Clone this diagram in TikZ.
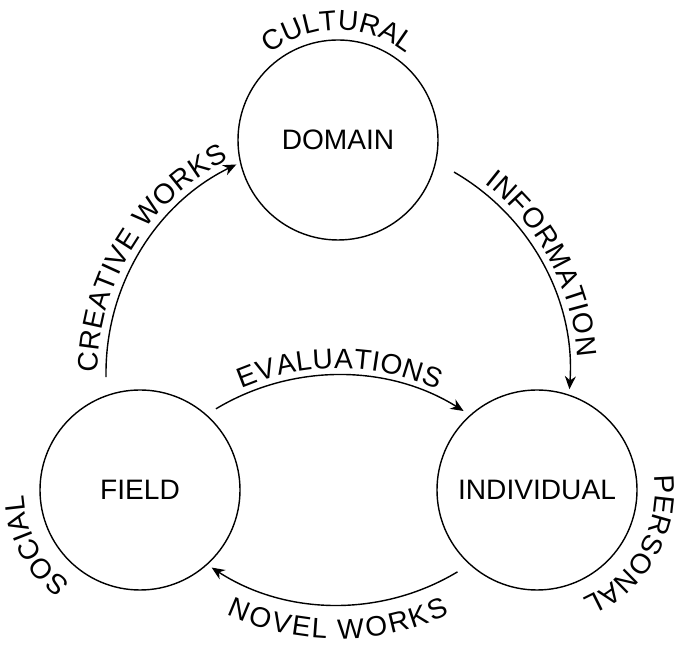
\documentclass[tikz,border=0pt]{standalone}
\usepackage{fontspec}
\setmainfont{Liberation Sans}
\usetikzlibrary{arrows.meta,calc,decorations.text}
\newcommand\lblfont{\fontsize{16}{19}\selectfont}

\begin{document}
\begin{tikzpicture}[>={Stealth[length=2.6mm,width=2.2mm]}, line width=0.8pt]
    \useasboundingbox (0,0) rectangle (13.6,12.94);

    % Define styles
    \tikzstyle{sphere}=[circle, draw=black, minimum size=40mm, inner sep=0pt, font=\lblfont]
    \tikzstyle{flow}=[->, draw=black]
    \tikzset{curved/.style={decorate, decoration={text along path, text align=center, raise=#1}}}

    \node[sphere] (domain) at (6.76,10.14) {DOMAIN};
    \node[sphere] (field) at (2.8,3.14) {FIELD};
    \node[sphere] (individual) at (10.74,3.14) {INDIVIDUAL};

    \coordinate (hub) at (6.76,5.48);
    \coordinate (dip) at (6.76,0.7);

    % ends of the flows
    \coordinate (cw-tail) at ($(hub)+(181:4.64)$);
    \coordinate (in-tail) at ($(hub)+(60:4.64)$);
    \coordinate (nw-tail) at ($(hub)+(-59:4.64)$);
    \coordinate (ev-tail) at ($(dip)+(121:4.74)$);

    \draw[flow] (cw-tail) arc[start angle=181, end angle=116, radius=4.64];
    \draw[flow] (in-tail) arc[start angle=60, end angle=-4, radius=4.64];
    \draw[flow] (nw-tail) arc[start angle=-59, end angle=-123, radius=4.64];
    \draw[flow] (ev-tail) arc[start angle=121, end angle=58, radius=4.74];

    % flow labels
    \path[curved=1.6mm, decoration={text={|\lblfont|CREATIVE WORKS}}] (cw-tail) arc[start angle=181, end angle=116, radius=4.64];
    \path[curved=1.6mm, decoration={text={|\lblfont|INFORMATION}}] (in-tail) arc[start angle=60, end angle=-4, radius=4.64];
    \path[curved=1.3mm, decoration={text={|\lblfont|EVALUATIONS}}] (ev-tail) arc[start angle=121, end angle=58, radius=4.74];
    \path[curved=-5.2mm, decoration={text={|\lblfont|NOVEL WORKS}}] ($(hub)+(-135:4.8)$) arc[start angle=-135, end angle=-45, radius=4.8];

    % realm labels
    \path[curved=0pt, decoration={text={|\lblfont|CULTURAL}}] ($(domain)+(150:2.2)$) arc[start angle=150, end angle=30, radius=2.2];
    \path[curved=0pt, decoration={text={|\lblfont|SOCIAL}}] ($(field)+(250:2.33)$) arc[start angle=250, end angle=166, radius=2.33];
    \path[curved=0pt, decoration={text={|\lblfont|PERSONAL}}] ($(individual)+(12:2.36)$) arc[start angle=12, end angle=-72, radius=2.36];
\end{tikzpicture}
\end{document}
